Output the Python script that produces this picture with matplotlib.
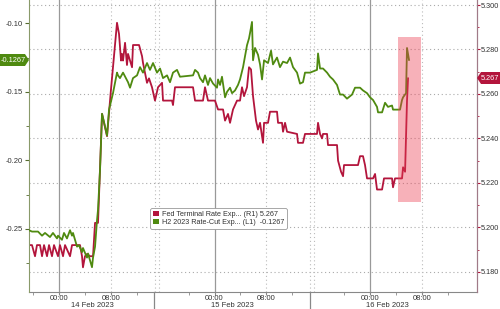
import matplotlib
matplotlib.use("Agg")
import matplotlib.pyplot as plt
from matplotlib.patches import Rectangle, Polygon, Patch
from matplotlib.ticker import MultipleLocator, FixedLocator, FormatStrFormatter

plt.rcParams['font.family'] = ['Liberation Sans', 'DejaVu Sans']

# ---- data (time in hours since 14 Feb 2023 00:00) ----
red_t = [-4.63, -4.17, -3.70, -3.40, -2.93, -2.62, -2.31, -1.85, -1.54, -1.08, -0.77, -0.15, 0.15, 0.62, 0.93,
         1.70, 2.01, 3.24, 3.55, 3.70, 4.01, 4.32, 4.78, 5.25, 5.56, 6.02, 6.64, 7.10, 7.41, 8.02, 8.33, 8.95,
         9.26, 9.57, 9.72, 9.88, 10.19, 10.49, 10.65, 11.27, 11.42, 12.35, 12.81, 12.96, 13.58, 13.89, 14.35,
         14.81, 15.28, 15.90, 16.05, 17.44, 17.59, 17.90, 20.68, 20.99, 22.22, 22.53, 22.99, 24.07, 24.54,
         25.31, 25.62, 26.08, 26.39, 26.85, 27.47, 27.93, 28.24, 28.55, 29.01, 29.32, 29.63, 29.94, 30.40,
         30.71, 31.02, 31.48, 31.64, 32.25, 32.56, 33.64, 33.80, 34.41, 34.57, 34.88, 35.19, 36.73, 36.88,
         37.65, 37.96, 39.81, 39.97, 40.28, 40.59, 40.74, 41.36, 41.51, 42.90, 43.06, 43.52, 43.83, 43.98,
         46.14, 46.45, 46.91, 47.22, 47.53, 48.46, 48.77, 49.07, 49.85, 50.15, 51.39, 51.54, 51.85, 52.93,
         53.09, 53.40, 53.70, 53.86]
red_v = [5.192, 5.192, 5.187, 5.192, 5.192, 5.187, 5.192, 5.187, 5.192, 5.187, 5.192, 5.187, 5.192, 5.187, 5.192,
         5.187, 5.192, 5.192, 5.187, 5.182, 5.187, 5.188, 5.187, 5.187, 5.202, 5.202, 5.251, 5.245, 5.241, 5.262,
         5.272, 5.292, 5.287, 5.275, 5.278, 5.275, 5.283, 5.273, 5.278, 5.272, 5.282, 5.282, 5.277, 5.274, 5.265,
         5.267, 5.263, 5.257, 5.263, 5.265, 5.257, 5.257, 5.255, 5.263, 5.263, 5.257, 5.257, 5.263, 5.257, 5.257,
         5.253, 5.253, 5.248, 5.251, 5.247, 5.253, 5.257, 5.257, 5.263, 5.259, 5.263, 5.272, 5.271, 5.259, 5.248,
         5.244, 5.247, 5.238, 5.247, 5.247, 5.252, 5.252, 5.247, 5.247, 5.243, 5.247, 5.243, 5.242, 5.238, 5.238,
         5.242, 5.242, 5.247, 5.242, 5.240, 5.242, 5.242, 5.237, 5.237, 5.230, 5.225, 5.223, 5.228, 5.228, 5.232,
         5.232, 5.228, 5.222, 5.222, 5.224, 5.217, 5.217, 5.222, 5.222, 5.218, 5.222, 5.222, 5.227, 5.225, 5.257,
         5.267]

green_t = [-4.63, -4.17, -3.24, -2.62, -2.16, -1.39, -0.93, -0.31, -0.15, 0.46, 0.77, 1.23, 1.70, 2.01, 2.16,
           2.47, 2.78, 3.09, 3.55, 3.70, 4.32, 4.48, 5.09, 5.25, 5.56, 5.86, 6.02, 6.33, 6.64, 6.94, 7.41, 7.72,
           8.18, 8.33, 8.95, 9.10, 9.41, 9.88, 10.65, 10.96, 11.42, 12.04, 12.50, 12.96, 13.58, 14.04, 14.51,
           15.12, 15.59, 16.05, 16.67, 17.13, 17.59, 18.21, 18.67, 20.68, 20.99, 21.45, 21.76, 22.22, 22.53,
           22.99, 23.30, 23.77, 24.38, 24.54, 24.85, 25.15, 25.62, 25.93, 26.39, 26.70, 27.16, 27.62, 27.93,
           28.40, 29.01, 29.32, 29.48, 29.78, 29.94, 30.25, 30.71, 31.02, 31.33, 31.64, 32.25, 32.72, 33.02,
           33.64, 34.10, 34.57, 35.19, 35.65, 36.11, 36.73, 37.19, 37.65, 37.96, 38.73, 39.81, 39.97, 40.28,
           40.74, 41.36, 41.82, 42.28, 42.90, 43.36, 43.83, 44.44, 45.22, 45.68, 46.45, 46.91, 47.53, 47.99,
           48.46, 49.07, 49.23, 49.85, 50.31, 50.77, 51.39, 51.54, 52.16, 52.62, 52.93, 53.09, 53.55, 53.70,
           54.01]
green_v = [-0.251, -0.252, -0.252, -0.255, -0.253, -0.256, -0.253, -0.257, -0.255, -0.258, -0.253, -0.257,
           -0.251, -0.255, -0.253, -0.258, -0.263, -0.262, -0.267, -0.264, -0.271, -0.268, -0.278, -0.271,
           -0.263, -0.244, -0.236, -0.207, -0.166, -0.172, -0.182, -0.163, -0.154, -0.151, -0.136, -0.138,
           -0.140, -0.136, -0.143, -0.147, -0.140, -0.138, -0.132, -0.136, -0.129, -0.134, -0.129, -0.136,
           -0.133, -0.140, -0.138, -0.143, -0.136, -0.134, -0.139, -0.138, -0.134, -0.136, -0.140, -0.143,
           -0.138, -0.145, -0.140, -0.144, -0.147, -0.141, -0.145, -0.139, -0.154, -0.150, -0.147, -0.151,
           -0.149, -0.145, -0.141, -0.132, -0.116, -0.111, -0.107, -0.099, -0.127, -0.118, -0.123, -0.130,
           -0.141, -0.127, -0.129, -0.120, -0.130, -0.125, -0.132, -0.128, -0.129, -0.125, -0.132, -0.136,
           -0.144, -0.143, -0.136, -0.136, -0.134, -0.122, -0.133, -0.133, -0.136, -0.139, -0.141, -0.145,
           -0.152, -0.152, -0.155, -0.152, -0.147, -0.147, -0.149, -0.151, -0.154, -0.156, -0.161, -0.165,
           -0.165, -0.158, -0.161, -0.160, -0.163, -0.163, -0.163, -0.156, -0.154, -0.151, -0.118, -0.1267]

red_label = "Fed Terminal Rate Exp... (R1) 5.267"
green_label = "H2 2023 Rate-Cut Exp... (L1)  -0.1267"
red_last = "5.267"
green_last = "-0.1267"
time_ticks = [0, 8, 24, 32, 48, 56]
time_labels = ["00:00", "08:00", "00:00", "08:00", "00:00", "08:00"]
date_pos = [5.1, 26.7, 50.7]
date_labels = ["14 Feb 2023", "15 Feb 2023", "16 Feb 2023"]
shade_t = (52.3, 55.9)
shade_v = (5.2114, 5.2856)

RED = '#b3153c'
GREEN = '#4f8a10'
TXT = '#333333'

fig = plt.figure(figsize=(5, 3.09), dpi=100)
ax = fig.add_axes([0.058, 0.055, 0.896, 0.945])
axL = ax.twinx()

# right axis (red) on base axes
ax.yaxis.tick_right()
ax.set_ylim(5.1709, 5.30225)
ax.set_xlim(-4.63, 64.5)
ax.yaxis.set_major_locator(MultipleLocator(0.02))
ax.yaxis.set_minor_locator(MultipleLocator(0.01))
ax.yaxis.set_major_formatter(FormatStrFormatter('%.3f'))

# left axis (green)
axL.yaxis.tick_left()
axL.set_ylim(-0.2961, -0.083)
axL.yaxis.set_major_locator(MultipleLocator(0.05))
axL.yaxis.set_minor_locator(MultipleLocator(0.025))
axL.yaxis.set_major_formatter(FormatStrFormatter('%.2f'))

# grids
for v in [5.18, 5.20, 5.22, 5.24, 5.26, 5.28, 5.30]:
    ax.axhline(v, color='#aaaaaa', lw=0.8, ls=(0, (1, 2.5)), zorder=0)
for t in [0, 24, 48]:
    ax.axvline(t, color='#999999', lw=0.9, zorder=0)
for t in [8, 32, 56, 14.8, 15.4, 38.8, 39.4]:
    ax.axvline(t, color='#bbbbbb', lw=0.8, ls=(0, (1, 2.5)), zorder=0)

# series
ax.plot(red_t, red_v, color=RED, lw=1.3, zorder=3)
axL.plot(green_t, green_v, color=GREEN, lw=1.3, zorder=3)

# shaded highlight
axL.add_patch(Rectangle((shade_t[0], shade_v[0]), shade_t[1] - shade_t[0], shade_v[1] - shade_v[0],
                        transform=ax.transData, facecolor='#eb3c50', alpha=0.4, lw=0, zorder=5))

# spines
for a in (ax, axL):
    a.spines['top'].set_visible(False)
ax.spines['left'].set_visible(False)
axL.spines['right'].set_color('#a07a88')
axL.spines['left'].set_color('#8a9a6a')
axL.spines['bottom'].set_visible(False)
ax.spines['right'].set_color('#a07a88')
ax.spines['bottom'].set_color('#888888')

ax.tick_params(axis='y', which='both', colors=RED, labelcolor=TXT, labelsize=5.3, direction='out', pad=1)
ax.tick_params(axis='y', which='major', length=2)
ax.tick_params(axis='y', which='minor', length=1.5)
axL.tick_params(axis='y', which='both', colors='#556b2f', labelcolor=TXT, labelsize=5.5, direction='out', pad=1.5)
axL.tick_params(axis='y', which='major', length=3)
axL.tick_params(axis='y', which='minor', length=2)

ax.set_xticks(time_ticks)
ax.set_xticklabels(time_labels)
ax.xaxis.set_minor_locator(FixedLocator([-4, 4, 12, 20, 28, 36, 44, 52, 60]))
ax.tick_params(axis='x', which='both', colors='#888888', labelcolor=TXT, labelsize=5.5, length=2, pad=0.3)

for x, lab in zip(date_pos, date_labels):
    ax.text(x, -0.045, lab, transform=ax.get_xaxis_transform(), ha='center', va='center',
            fontsize=5.5, color=TXT)
trans = ax.get_xaxis_transform()
for t in [14.7, 38.7]:
    ax.plot([t, t], [0, -0.06], transform=trans, color='#888888', lw=0.9, clip_on=False)

# legend
handles = [Patch(facecolor=RED, edgecolor='none'), Patch(facecolor=GREEN, edgecolor='none')]
leg = axL.legend(handles, [red_label, green_label], loc='lower left', bbox_to_anchor=(0.263, 0.205),
                 fontsize=5.2, frameon=True, handlelength=0.8, handleheight=0.8, handletextpad=0.4,
                 borderpad=0.35, labelspacing=0.1, fancybox=True, framealpha=1)
leg.get_frame().set_edgecolor('#999999')
leg.get_frame().set_linewidth(0.6)
leg.set_zorder(10)
for txt in leg.get_texts():
    txt.set_color(TXT)

# last-value tags
fh = 309.0
def yf(py):
    return (fh - py) / fh
gy = 60
fig.patches.append(Polygon([(0, yf(gy - 6)), (25 / 500, yf(gy - 6)), (29 / 500, yf(gy)),
                            (25 / 500, yf(gy + 6)), (0, yf(gy + 6))], closed=True,
                           transform=fig.transFigure, facecolor=GREEN, edgecolor='none', figure=fig))
fig.text(13 / 500, yf(gy), green_last, ha='center', va='center', fontsize=5.3, color='white')
ry = 78
fig.patches.append(Polygon([(1, yf(ry - 6)), (481 / 500, yf(ry - 6)), (477 / 500, yf(ry)),
                            (481 / 500, yf(ry + 6)), (1, yf(ry + 6))], closed=True,
                           transform=fig.transFigure, facecolor=RED, edgecolor='none', figure=fig))
fig.text(489.5 / 500, yf(ry), red_last, ha='center', va='center', fontsize=5.3, color='white')

fig.savefig('out.png', dpi=100)
